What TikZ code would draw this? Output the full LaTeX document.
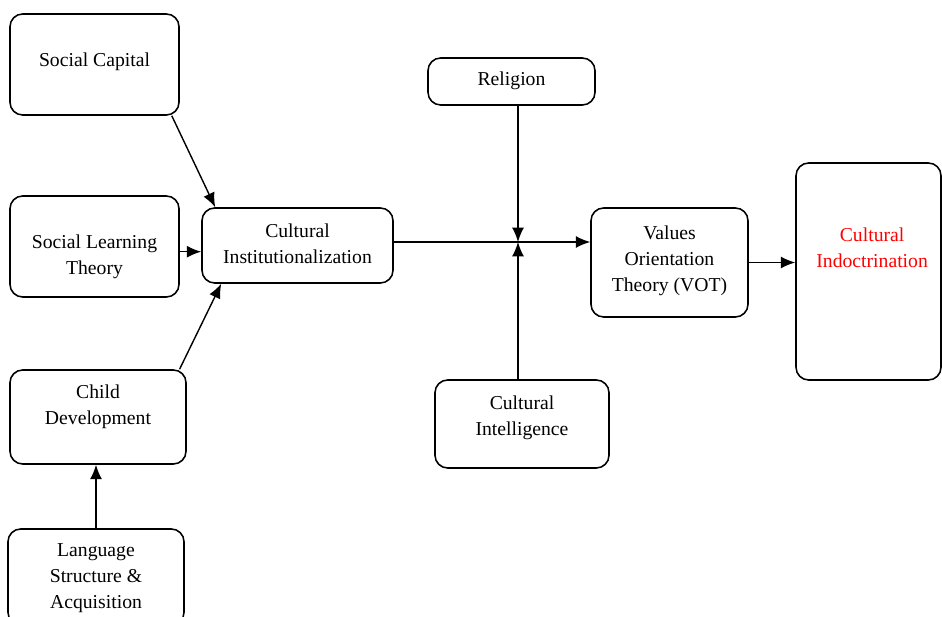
\documentclass[tikz,border=0pt]{standalone}
\usepackage{fontspec}
\setmainfont{Liberation Serif}
\usetikzlibrary{arrows.meta}
\tikzset{>={Latex[width=3mm,length=3.6mm]}}
\tikzset{
  box/.style={draw=black, line width=1.1pt, rounded corners=9pt, inner sep=0pt},
  txt/.style={align=center, font=\fontsize{14}{18.5}\selectfont},
}

\begin{document}
\begin{tikzpicture}
    \useasboundingbox (0,0) rectangle (23.55,-15.425);

    \node[box, minimum width=4.225cm, minimum height=2.525cm,
      label={[txt, yshift=0.08cm]center:Social Capital}] (SC) at (2.3625,-1.6125) {};
    \node[box, minimum width=4.225cm, minimum height=2.525cm,
      label={[txt, yshift=-0.25cm]center:Social Learning\\Theory}] (SLT) at (2.3625,-6.1625) {};
    \node[box, minimum width=4.4cm, minimum height=2.35cm,
      label={[txt, yshift=0.25cm]center:Child\\Development}] (CD) at (2.45,-10.425) {};
    \node[box, minimum width=4.4cm, minimum height=2.4cm,
      label={[txt, yshift=-0.02cm]center:Language\\Structure \&\\Acquisition}] (LSA) at (2.4,-14.425) {};

    \node[box, minimum width=4.775cm, minimum height=1.875cm,
      label={[txt, yshift=0.04cm]center:Cultural\\Institutionalization}] (CI) at (7.4375,-6.1375) {};

    \node[box, minimum width=4.175cm, minimum height=1.175cm,
      label={[txt, yshift=0.02cm]center:Religion}] (REL) at (12.7875,-2.0375) {};
    \node[box, minimum width=4.35cm, minimum height=2.2cm,
      label={[txt, yshift=0.15cm]center:Cultural\\Intelligence}] (CQ) at (13.05,-10.6) {};

    \node[box, minimum width=3.925cm, minimum height=2.725cm,
      label={[txt, yshift=0.04cm]center:Values\\Orientation\\Theory (VOT)}] (VOT) at (16.7375,-6.5625) {};
    \node[box, minimum width=3.625cm, minimum height=5.425cm,
      label={[txt, text=red, yshift=0.6cm, xshift=0.09cm]center:Cultural\\Indoctrination}] (IND) at (21.7125,-6.7875) {};

    \coordinate (J) at (12.95,-6.05);

    \draw[->, line width=1pt] ([xshift=-0.2cm]SC.south east) -- ([xshift=0.35cm]CI.north west);
    \draw[->, line width=1pt] ([yshift=-0.13cm]SLT.east) -- ([yshift=-0.13cm]SLT.east -| CI.west);
    \draw[->, line width=1pt] ([xshift=-0.18cm]CD.north east) -- ([xshift=0.5cm]CI.south west);
    \draw[->, line width=1pt] (LSA.north) -- (LSA.north |- CD.south);

    \draw[->, line width=1pt] (CI.east |- J) -- (VOT.west |- J);
    \draw[->, line width=1pt] (REL.south -| J) -- (J);
    \draw[->, line width=1pt] (CQ.north -| J) -- (J);

    \draw[->, line width=1pt] (VOT.east) -- (VOT.east -| IND.west);
\end{tikzpicture}
\end{document}
